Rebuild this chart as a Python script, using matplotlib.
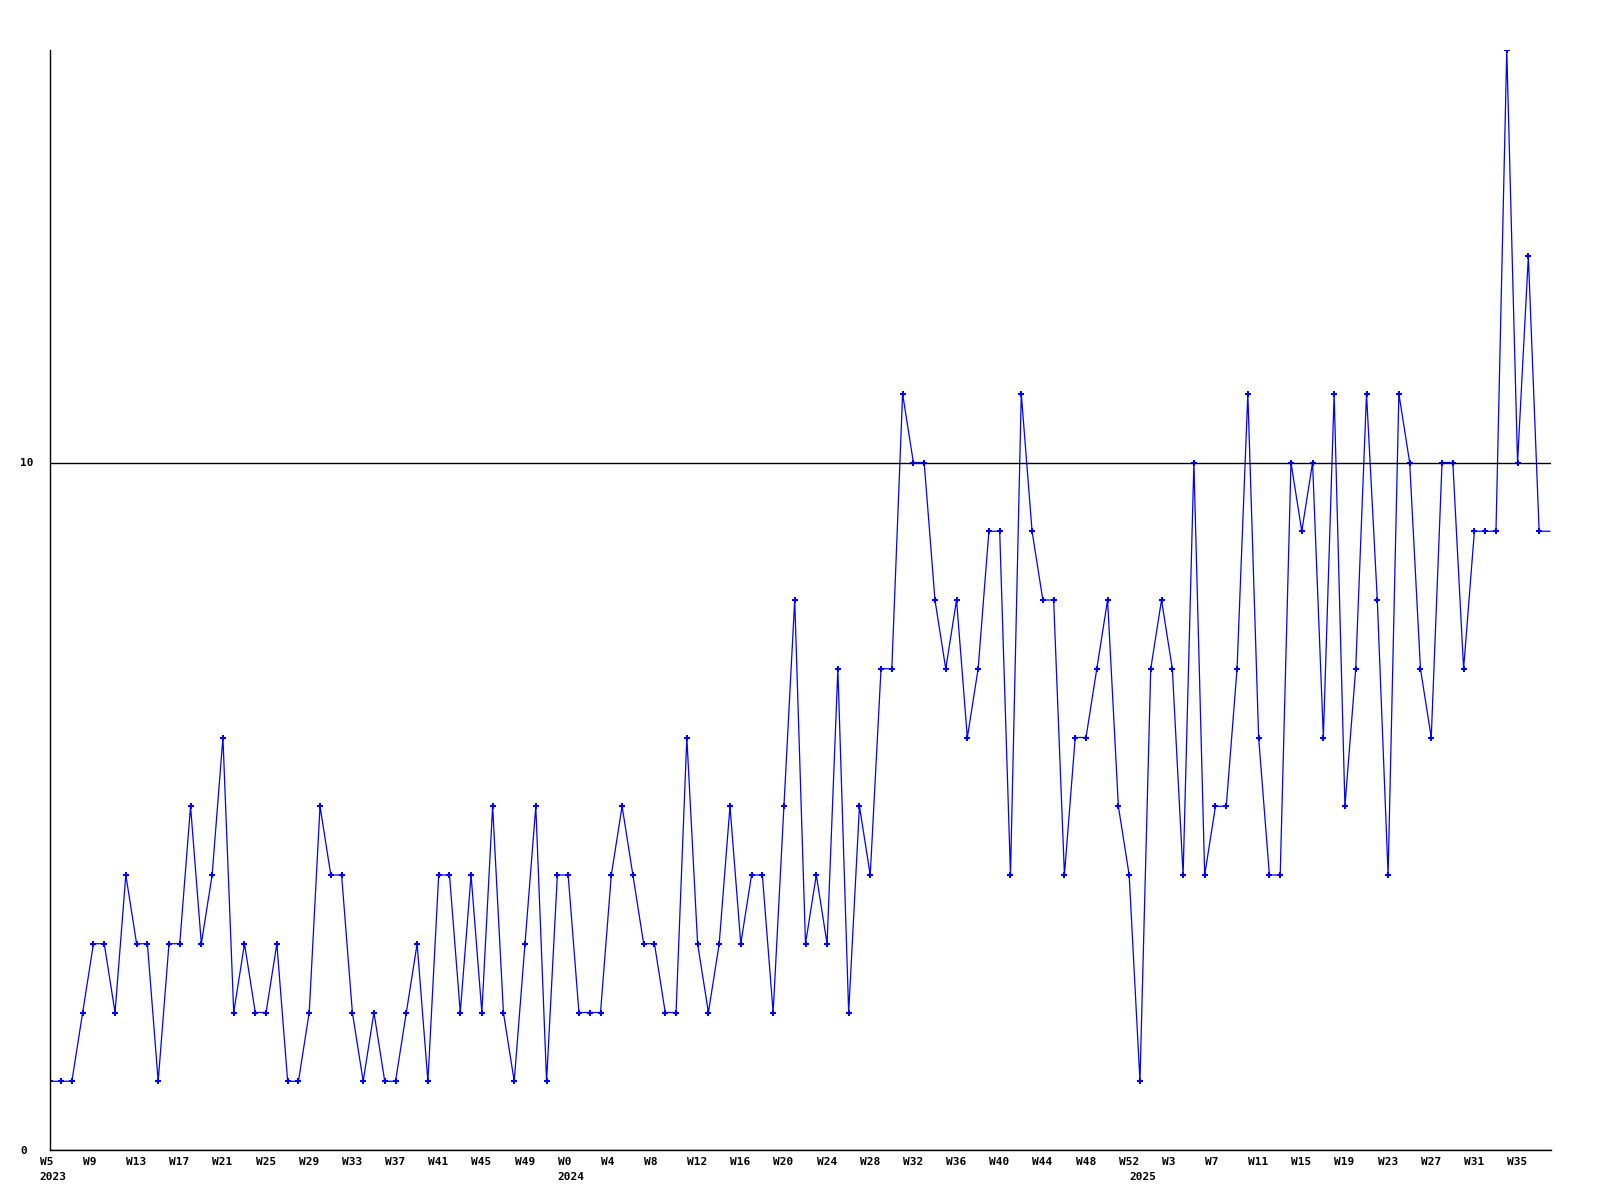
import numpy as np
import matplotlib
matplotlib.use("Agg")
import matplotlib.pyplot as plt
from matplotlib.transforms import ScaledTranslation, blended_transform_factory

# Weekly counts, W5 2023 .. W37 2025 (last value continues to the plot edge)
values = [
    1, 1, 1, 2, 3, 3, 2, 4, 3, 3,
    1, 3, 3, 5, 3, 4, 6, 2, 3, 2,
    2, 3, 1, 1, 2, 5, 4, 4, 2, 1,
    2, 1, 1, 2, 3, 1, 4, 4, 2, 4,
    2, 5, 2, 1, 3, 5, 1, 4, 4, 2,
    2, 2, 4, 5, 4, 3, 3, 2, 2, 6,
    3, 2, 3, 5, 3, 4, 4, 2, 5, 8,
    3, 4, 3, 7, 2, 5, 4, 7, 7, 11,
    10, 10, 8, 7, 8, 6, 7, 9, 9, 4,
    11, 9, 8, 8, 4, 6, 6, 7, 8, 5,
    4, 1, 7, 8, 7, 4, 10, 4, 5, 5,
    7, 11, 6, 4, 4, 10, 9, 10, 6, 11,
    5, 7, 11, 8, 4, 11, 10, 7, 6, 10,
    10, 7, 9, 9, 9, 16, 10, 13, 9, 9,
]

week_labels = [
    "W5", "W9", "W13", "W17", "W21", "W25", "W29", "W33", "W37", "W41", "W45", "W49",
    "W0", "W4", "W8", "W12", "W16", "W20", "W24", "W28", "W32", "W36", "W40", "W44", "W48", "W52",
    "W3", "W7", "W11", "W15", "W19", "W23", "W27", "W31", "W35",
]
week_label_step = 4

year_labels = ["2023", "2024", "2025"]
year_start_index = [0, 48, 101]

y_ticks = [0, 10]
y_tick_labels = ["0", "10"]

DPI = 100
fig = plt.figure(figsize=(16, 12), dpi=DPI)
ax = fig.add_axes([50.3 / 1600, 50 / 1200, (1551 - 50.3) / 1600, 1100 / 1200])

x = np.arange(len(values))
ax.plot(x, values, color="#0000ff", lw=0.9, marker="+", ms=3.8, mew=1.5,
        markevery=slice(0, len(values) - 1), clip_on=True)

ax.set_xlim(0, 139.1)
ax.set_ylim(0, max(values))

for s in ("top", "right"):
    ax.spines[s].set_visible(False)
for s in ("left", "bottom"):
    ax.spines[s].set_linewidth(1.0)
    ax.spines[s].set_color("black")

font = dict(family="DejaVu Sans Mono", weight="bold", size=8)

# y ticks + gridline
ax.set_yticks(y_ticks)
ax.set_yticklabels(y_tick_labels, **font)
ax.tick_params(axis="y", length=0, pad=30.3 * 72 / DPI)
for lab in ax.get_yticklabels():
    lab.set_horizontalalignment("left")
ax.grid(axis="y", color="black", lw=1.0)
ax.set_axisbelow(False)

# x ticks: week labels, left-aligned slightly before each point
tick_pos = x[::week_label_step][: len(week_labels)]
ax.set_xticks(tick_pos)
ax.set_xticklabels(week_labels, **font)
ax.tick_params(axis="x", length=0, pad=12 * 72 / DPI)
offset = ScaledTranslation(-10.5 / DPI, 0, fig.dpi_scale_trans)
for lab in ax.get_xticklabels():
    lab.set_horizontalalignment("left")
    lab.set_verticalalignment("center")
    lab.set_transform(lab.get_transform() + offset)

# year labels on the second line
trans = blended_transform_factory(ax.transData, ax.transAxes)
ytrans = trans + ScaledTranslation(-10.8 / DPI, -27 / DPI, fig.dpi_scale_trans)
for lbl, idx in zip(year_labels, year_start_index):
    ax.text(x[idx], 0, lbl, transform=ytrans, ha="left", va="center",
            clip_on=False, **font)

fig.savefig("out.png", dpi=DPI)
